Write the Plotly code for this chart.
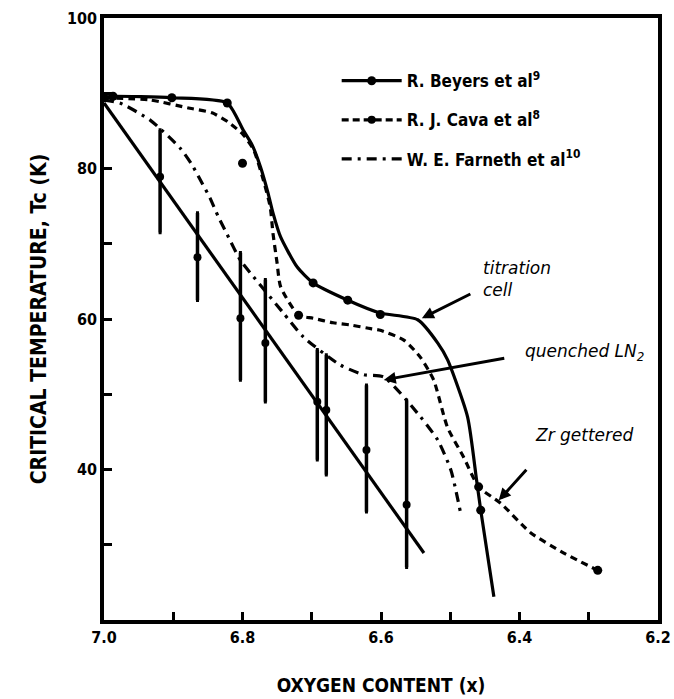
import plotly.graph_objects as go

# ---- data: oxygen content x in YBa2Cu3Ox vs. critical temperature Tc (K) ----
beyers_x = [7.000, 6.987, 6.902, 6.822, 6.799, 6.786, 6.774, 6.763, 6.756, 6.745,
            6.721, 6.698, 6.648, 6.601, 6.547, 6.518, 6.504, 6.475, 6.462, 6.456, 6.437]
beyers_t = [89.5, 89.6, 89.4, 88.7, 85.1, 83.1, 80.2, 76.7, 74.1, 70.9,
            66.9, 64.8, 62.5, 60.8, 59.9, 56.8, 54.6, 47.0, 38.6, 34.6, 23.1]
beyers_pts_x = [6.987, 6.902, 6.822, 6.698, 6.648, 6.601, 6.456]
beyers_pts_t = [89.6, 89.4, 88.7, 64.8, 62.5, 60.6, 34.6]

cava_x = [7.000, 6.933, 6.876, 6.844, 6.821, 6.799, 6.784, 6.770, 6.760, 6.756,
          6.750, 6.745, 6.719, 6.698, 6.669, 6.644, 6.620, 6.601, 6.567, 6.543,
          6.524, 6.504, 6.481, 6.459, 6.427, 6.384, 6.336, 6.287]
cava_t = [89.4, 89.1, 88.0, 87.4, 86.2, 84.5, 82.5, 78.5, 74.9, 71.4,
          67.4, 64.3, 60.5, 60.1, 59.5, 59.2, 58.8, 58.5, 57.2, 54.9,
          51.9, 45.6, 41.7, 37.7, 35.5, 31.6, 28.9, 26.6]
cava_pts_x = [7.000, 6.800, 6.719, 6.459, 6.287]
cava_pts_t = [89.4, 80.7, 60.5, 37.7, 26.6]

farneth_x = [7.000, 6.977, 6.933, 6.890, 6.873, 6.861, 6.847, 6.835, 6.822, 6.803,
             6.784, 6.741, 6.712, 6.659, 6.625, 6.596, 6.543, 6.518, 6.499, 6.485]
farneth_t = [89.1, 88.7, 86.4, 82.7, 80.5, 78.5, 76.1, 73.6, 71.2, 67.8,
             65.6, 60.8, 57.6, 53.9, 52.6, 52.3, 47.0, 43.9, 39.9, 34.2]

# points with error bars and the straight-line fit drawn through them
bars_x = [6.919, 6.865, 6.803, 6.767, 6.692, 6.679, 6.621, 6.563]
bars_t = [78.9, 68.2, 60.1, 56.8, 49.0, 47.9, 42.6, 35.3]
bars_hi = [85.1, 74.1, 68.8, 65.2, 55.9, 55.2, 51.2, 49.2]
bars_lo = [71.5, 62.5, 51.9, 49.0, 41.3, 39.3, 34.4, 27.0]
fit_x = [7.000, 6.538]
fit_t = [88.7, 28.9]

x_ticks = [7.0, 6.8, 6.6, 6.4, 6.2]
x_labels = ["7.0", "6.8", "6.6", "6.4", "6.2"]
x_minor = [6.9, 6.7, 6.5, 6.3]
y_ticks = [40, 60, 80, 100]
y_labels = ["40", "60", "80", "100"]
y_minor = [30, 50, 70, 90]

legend_names = ["R. Beyers et al<sup>9</sup>", "R. J. Cava et al<sup>8</sup>",
                "W. E. Farneth et al<sup>10</sup>"]

# ---- styling ----
INK = "black"
FONT = "DejaVu Sans Condensed, Liberation Sans Narrow, DejaVu Sans, sans-serif"
HAND = "DejaVu Sans, sans-serif"
LW = 3.2

fig = go.Figure()

# straight fit line + error bars (no legend entry)
fig.add_trace(go.Scatter(x=fit_x, y=fit_t, mode="lines",
                         line=dict(color=INK, width=LW), showlegend=False))
fig.add_trace(go.Scatter(
    x=bars_x, y=bars_t, mode="markers",
    marker=dict(color=INK, size=8),
    error_y=dict(type="data", symmetric=False,
                 array=[h - t for h, t in zip(bars_hi, bars_t)],
                 arrayminus=[t - l for t, l in zip(bars_t, bars_lo)],
                 color=INK, thickness=3.5, width=1.5),
    showlegend=False))

# Beyers: solid curve with dots
fig.add_trace(go.Scatter(x=beyers_x, y=beyers_t, mode="lines",
                         line=dict(color=INK, width=LW, shape="spline", smoothing=0.6),
                         showlegend=False, legendgroup="b"))
fig.add_trace(go.Scatter(x=beyers_pts_x, y=beyers_pts_t, mode="markers",
                         marker=dict(color=INK, size=9), showlegend=False, legendgroup="b"))
fig.add_trace(go.Scatter(x=[None], y=[None], mode="lines+markers", name=legend_names[0],
                         line=dict(color=INK, width=LW), marker=dict(color=INK, size=9),
                         legendgroup="b"))

# Cava: dashed curve with dots
fig.add_trace(go.Scatter(x=cava_x, y=cava_t, mode="lines",
                         line=dict(color=INK, width=LW, dash="7px,5px",
                                   shape="spline", smoothing=0.6),
                         showlegend=False, legendgroup="c"))
fig.add_trace(go.Scatter(x=cava_pts_x, y=cava_pts_t, mode="markers",
                         marker=dict(color=INK, size=9), showlegend=False, legendgroup="c"))
fig.add_trace(go.Scatter(x=[None], y=[None], mode="lines+markers", name=legend_names[1],
                         line=dict(color=INK, width=LW, dash="7px,4px"),
                         marker=dict(color=INK, size=8), legendgroup="c"))

# Farneth: dash-dot curve
fig.add_trace(go.Scatter(x=farneth_x, y=farneth_t, mode="lines",
                         line=dict(color=INK, width=LW, dash="10px,6px,3px,6px",
                                   shape="spline", smoothing=0.6),
                         showlegend=False, legendgroup="f"))
fig.add_trace(go.Scatter(x=[None], y=[None], mode="lines", name=legend_names[2],
                         line=dict(color=INK, width=LW, dash="10px,6px,3px,6px"),
                         legendgroup="f"))

# handwritten notes with arrows
notes = [
    dict(text="titration<br>cell", x=6.541, y=60.1, ax=50, ay=-25,
         tx=6.455, ty=65.3),
    dict(text="quenched LN<sub>2</sub>", x=6.596, y=51.9, ax=122, ay=-22,
         tx=6.395, ty=55.6),
    dict(text="Zr gettered", x=6.430, y=35.9, ax=29, ay=-32,
         tx=6.38, ty=44.6),
]
for n in notes:
    fig.add_annotation(x=n["x"], y=n["y"], ax=n["ax"], ay=n["ay"], text="",
                       showarrow=True, arrowhead=2, arrowsize=0.8,
                       arrowwidth=3, arrowcolor=INK)
    fig.add_annotation(x=n["tx"], y=n["ty"], text="<i>" + n["text"] + "</i>",
                       showarrow=False, xanchor="left", align="left",
                       font=dict(family=HAND, size=17, color=INK))

axis_common = dict(showline=True, linecolor=INK, linewidth=3.5, mirror=True,
                   ticks="inside", ticklen=8, tickwidth=3, tickcolor=INK,
                   showgrid=False, zeroline=False, automargin=False,
                   tickfont=dict(family=FONT, size=16, color=INK, weight="bold"))

fig.update_xaxes(range=[7.0, 6.2], tickmode="array", tickvals=x_ticks, ticktext=x_labels,
                 minor=dict(tickmode="array", tickvals=x_minor, ticks="inside",
                            ticklen=8, tickwidth=3, tickcolor=INK, showgrid=False),
                 title=dict(text="OXYGEN CONTENT (x)",
                            font=dict(family=FONT, size=19, color=INK, weight="bold"),
                            standoff=34),
                 **axis_common)
fig.update_yaxes(range=[20, 100], tickmode="array", tickvals=y_ticks, ticktext=y_labels,
                 minor=dict(tickmode="array", tickvals=y_minor, ticks="inside",
                            ticklen=8, tickwidth=3, tickcolor=INK, showgrid=False),
                 title=dict(text="CRITICAL TEMPERATURE, Tc (K)",
                            font=dict(family=FONT, size=21, color=INK, weight="bold"),
                            standoff=16),
                 **axis_common)

fig.update_layout(
    width=674, height=699,
    margin=dict(l=104, r=16, t=18, b=79),
    paper_bgcolor="white", plot_bgcolor="white",
    font=dict(family=FONT, color=INK),
    legend=dict(x=0.42, y=0.925, xanchor="left", yanchor="top",
                bgcolor="rgba(0,0,0,0)", tracegroupgap=14, itemwidth=60,
                font=dict(family=FONT, size=17, color=INK, weight="bold")),
)

fig.write_html("out.html")
